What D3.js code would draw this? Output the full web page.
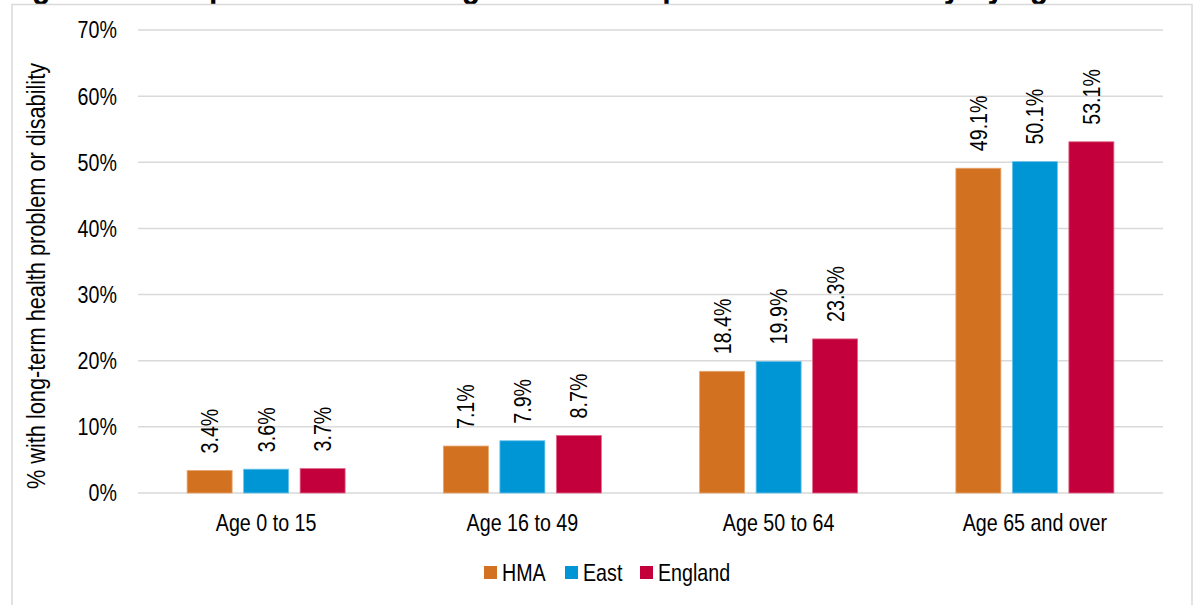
<!DOCTYPE html>
<html><head><meta charset="utf-8">
<script src="https://cdn.jsdelivr.net/npm/d3@7"></script>
<style>
html,body{margin:0;padding:0;background:#fff;}
svg{display:block;font-family:"Liberation Sans",Arial,sans-serif;}
</style></head>
<body>
<script>
const categories = ["Age 0 to 15", "Age 16 to 49", "Age 50 to 64", "Age 65 and over"];
const seriesNames = ["HMA", "East", "England"];
const hmaValues = [3.4, 7.1, 18.4, 49.1];
const eastValues = [3.6, 7.9, 19.9, 50.1];
const englandValues = [3.7, 8.7, 23.3, 53.1];
const yTicks = [0, 10, 20, 30, 40, 50, 60, 70];
const colors = ["#D2711F", "#0096D6", "#C3003B"];
const strokes = ["#E8A670", "#6CC3EA", "#E06A8C"];
const seriesValues = [hmaValues, eastValues, englandValues];

const W = 1198, H = 605;
const FS = 24, SX = 0.82; // narrow look (Arial Narrow substitute)
const svg = d3.select("body").append("svg").attr("width", W).attr("height", H);

// cut-off title
svg.append("text").attr("transform", `translate(5,-3.5) scale(${SX},1)`)
  .attr("font-size", 37).attr("font-weight", "bold").attr("fill", "#000")
  .text("Figure 19: Proportion with a long-term health problem or disability by age");

// outer border
svg.append("rect").attr("x", 12).attr("y", 4.5).attr("width", 1180).attr("height", 620)
  .attr("fill", "none").attr("stroke", "#D9D9D9").attr("stroke-width", 1.5);

const x0 = d3.scaleBand().domain(categories).range([138, 1163]).paddingInner(0).paddingOuter(0);
const y = d3.scaleLinear().domain([0, 70]).range([493, 30]);

// grid
svg.append("g").selectAll("line").data(yTicks).join("line")
  .attr("x1", 138).attr("x2", 1163)
  .attr("y1", d => y(d)).attr("y2", d => y(d))
  .attr("stroke", "#D9D9D9").attr("stroke-width", 1.5);

// y tick labels
svg.append("g").selectAll("text").data(yTicks).join("text")
  .attr("transform", d => `translate(117,${y(d)}) scale(${SX},1)`)
  .attr("dy", "0.35em")
  .attr("text-anchor", "end").attr("font-size", FS).attr("fill", "#000")
  .text(d => d + "%");

// y axis title
svg.append("text")
  .attr("transform", `translate(36,276) rotate(-90) scale(${SX},1)`)
  .attr("dy", "0.35em")
  .attr("text-anchor", "middle").attr("font-size", 26.5).attr("fill", "#000")
  .text("% with long-term health problem or disability");

const step = 56.5, bw = 45;
const x1 = d3.scaleBand().domain(seriesNames).range([-step * 1.5, step * 1.5]).padding(0);

const groups = svg.append("g").selectAll("g").data(categories).join("g")
  .attr("transform", d => `translate(${x0(d) + x0.bandwidth() / 2},0)`);

groups.each(function (cat, ci) {
  const g = d3.select(this);
  seriesNames.forEach((s, si) => {
    const v = seriesValues[si][ci];
    const cx = x1(s) + x1.bandwidth() / 2;
    g.append("rect")
      .attr("x", cx - bw / 2).attr("width", bw)
      .attr("y", y(v)).attr("height", y(0) - y(v))
      .attr("fill", colors[si]).attr("stroke", strokes[si]).attr("stroke-width", 0.8);
    g.append("text")
      .attr("transform", `translate(${cx},${y(v) - 17}) rotate(-90) scale(${SX},1)`)
      .attr("dy", "0.35em").attr("text-anchor", "start")
      .attr("font-size", FS).attr("fill", "#000")
      .text(v.toFixed(1) + "%");
  });
  g.append("text").attr("transform", `translate(0,523) scale(${SX},1)`).attr("dy", "0.35em")
    .attr("text-anchor", "middle").attr("font-size", FS).attr("fill", "#000")
    .text(cat);
});

// legend
const legendX = [484, 565, 640];
const lg = svg.append("g").selectAll("g").data(seriesNames).join("g")
  .attr("transform", (d, i) => `translate(${legendX[i]},573)`);
lg.append("rect").attr("x", 0).attr("y", -7).attr("width", 13).attr("height", 13)
  .attr("fill", (d, i) => colors[i]);
lg.append("text").attr("transform", `translate(18,0) scale(${SX},1)`).attr("dy", "0.35em")
  .attr("font-size", FS).attr("fill", "#000").text(d => d);
</script>
</body></html>
